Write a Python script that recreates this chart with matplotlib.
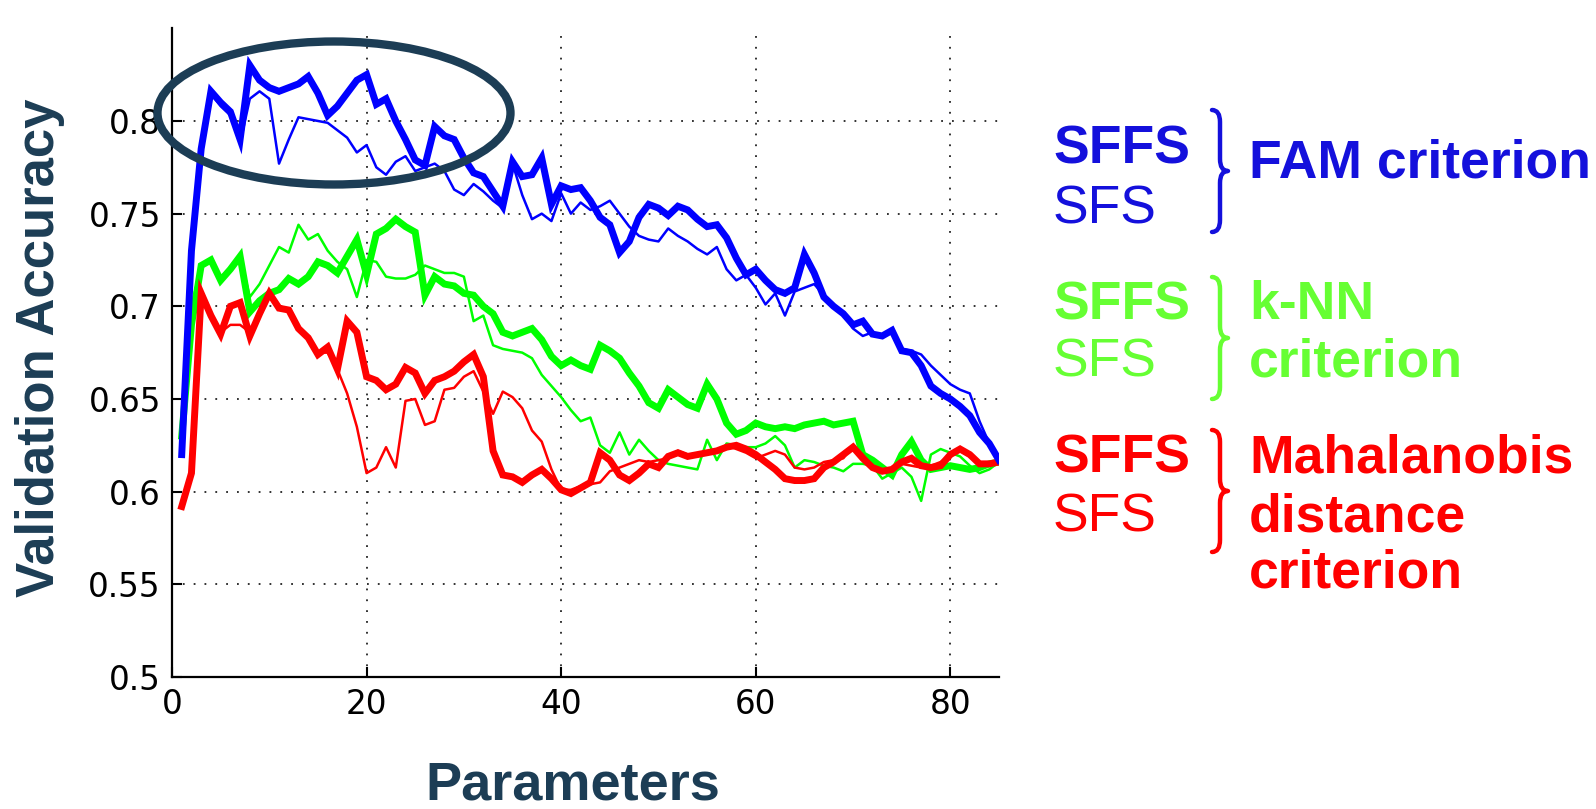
import numpy as np
import matplotlib
matplotlib.use("Agg")
import matplotlib.pyplot as plt
from matplotlib.patches import Ellipse, PathPatch
from matplotlib.path import Path

# ---------------- data ----------------
params = np.arange(1, 86)

blue_sffs = [0.62, 0.73, 0.785, 0.816, 0.81, 0.805, 0.79, 0.830, 0.822, 0.818,
             0.816, 0.818, 0.820, 0.824, 0.815, 0.803, 0.808, 0.815, 0.822, 0.825,
             0.809, 0.812, 0.800, 0.790, 0.779, 0.776, 0.797, 0.792, 0.790,
             0.78, 0.772, 0.77, 0.762, 0.754, 0.778, 0.77, 0.771, 0.78, 0.755,
             0.765, 0.763, 0.764, 0.757, 0.748, 0.744, 0.729, 0.735, 0.748, 0.755,
             0.753, 0.749, 0.754, 0.752, 0.747, 0.743, 0.744, 0.737,
             0.726, 0.717, 0.72, 0.714, 0.709, 0.707, 0.71, 0.728, 0.718, 0.705,
             0.70, 0.696, 0.69, 0.692, 0.685, 0.684, 0.687, 0.676, 0.675, 0.668,
             0.657, 0.653, 0.65, 0.646, 0.641, 0.632, 0.626, 0.617]

blue_sfs = [0.62, 0.73, 0.785, 0.815, 0.808, 0.803, 0.788, 0.812, 0.816, 0.812,
            0.777, 0.79, 0.802, 0.801, 0.80, 0.799, 0.795, 0.791, 0.783, 0.787,
            0.775, 0.771, 0.778, 0.781, 0.773, 0.775, 0.777, 0.773, 0.763,
            0.76, 0.766, 0.762, 0.757, 0.753, 0.777, 0.76, 0.747, 0.75, 0.746,
            0.761, 0.75, 0.756, 0.752, 0.754, 0.757, 0.75, 0.743, 0.738, 0.736,
            0.735, 0.742, 0.738, 0.735, 0.731, 0.728, 0.732, 0.72,
            0.714, 0.717, 0.71, 0.701, 0.707, 0.695, 0.708, 0.71, 0.712, 0.706,
            0.70, 0.696, 0.688, 0.684, 0.686, 0.683, 0.688, 0.677, 0.676, 0.674,
            0.668, 0.663, 0.658, 0.655, 0.653, 0.638, 0.626, 0.617]

green_sffs = [0.63, 0.69, 0.722, 0.725, 0.714, 0.72, 0.727, 0.697, 0.703, 0.707,
              0.709, 0.715, 0.712, 0.716, 0.724, 0.722, 0.718, 0.727, 0.736, 0.717,
              0.739, 0.742, 0.747, 0.743, 0.74, 0.706, 0.716, 0.712, 0.711,
              0.707, 0.706, 0.70, 0.696, 0.686, 0.684, 0.686, 0.688, 0.682, 0.673,
              0.668, 0.671, 0.668, 0.666, 0.679, 0.676, 0.672, 0.664, 0.657, 0.648,
              0.645, 0.655, 0.651, 0.647, 0.645, 0.658, 0.65, 0.637,
              0.631, 0.633, 0.637, 0.635, 0.634, 0.635, 0.634, 0.636, 0.637, 0.638,
              0.636, 0.637, 0.638, 0.62, 0.617, 0.613, 0.609, 0.62, 0.627, 0.617,
              0.612, 0.613, 0.614, 0.613, 0.612, 0.613, 0.615, 0.616]

green_sfs = [0.63, 0.70, 0.722, 0.725, 0.716, 0.72, 0.727, 0.705, 0.712, 0.722,
             0.732, 0.729, 0.744, 0.736, 0.739, 0.73, 0.724, 0.72, 0.705, 0.725,
             0.724, 0.716, 0.715, 0.715, 0.717, 0.722, 0.72, 0.718, 0.718,
             0.716, 0.692, 0.695, 0.679, 0.677, 0.676, 0.675, 0.672, 0.663, 0.657,
             0.651, 0.644, 0.638, 0.64, 0.625, 0.621, 0.632, 0.62, 0.628, 0.622,
             0.617, 0.615, 0.614, 0.613, 0.612, 0.628, 0.617, 0.626,
             0.625, 0.624, 0.624, 0.626, 0.63, 0.625, 0.613, 0.617, 0.616, 0.614,
             0.613, 0.611, 0.615, 0.615, 0.614, 0.607, 0.61, 0.613, 0.608, 0.595,
             0.62, 0.623, 0.621, 0.619, 0.614, 0.61, 0.612, 0.616]

red_sffs = [0.592, 0.61, 0.707, 0.695, 0.685, 0.70, 0.702, 0.684, 0.696, 0.707,
            0.699, 0.698, 0.688, 0.683, 0.674, 0.678, 0.666, 0.692, 0.686, 0.662,
            0.66, 0.655, 0.658, 0.667, 0.664, 0.653, 0.66, 0.662, 0.665,
            0.670, 0.674, 0.662, 0.622, 0.609, 0.608, 0.605, 0.609, 0.612, 0.607,
            0.601, 0.599, 0.602, 0.605, 0.621, 0.617, 0.609, 0.606, 0.61, 0.615,
            0.613, 0.619, 0.621, 0.619, 0.62, 0.621, 0.622, 0.624,
            0.625, 0.623, 0.62, 0.616, 0.612, 0.607, 0.606, 0.606, 0.607, 0.613,
            0.616, 0.62, 0.624, 0.618, 0.613, 0.611, 0.612, 0.616, 0.618, 0.614,
            0.613, 0.614, 0.62, 0.623, 0.62, 0.615, 0.615, 0.616]

red_sfs = [0.592, 0.61, 0.705, 0.695, 0.686, 0.69, 0.69, 0.686, 0.696, 0.706,
           0.699, 0.697, 0.688, 0.683, 0.675, 0.675, 0.666, 0.653, 0.635, 0.610,
           0.613, 0.624, 0.613, 0.649, 0.65, 0.636, 0.638, 0.655, 0.656,
           0.662, 0.665, 0.654, 0.642, 0.654, 0.651, 0.645, 0.633, 0.627, 0.612,
           0.601, 0.601, 0.603, 0.604, 0.605, 0.611, 0.613, 0.615, 0.617, 0.616,
           0.617, 0.618, 0.622, 0.62, 0.619, 0.621, 0.622, 0.625,
           0.623, 0.621, 0.618, 0.62, 0.622, 0.62, 0.613, 0.612, 0.613, 0.616,
           0.617, 0.618, 0.625, 0.62, 0.614, 0.612, 0.612, 0.615, 0.614, 0.613,
           0.614, 0.616, 0.62, 0.622, 0.619, 0.616, 0.614, 0.616]

y_ticks = [0.5, 0.55, 0.6, 0.65, 0.7, 0.75, 0.8]
y_tick_labels = ["0.5", "0.55", "0.6", "0.65", "0.7", "0.75", "0.8"]
x_ticks = [0, 20, 40, 60, 80]

# ---------------- figure ----------------
W, H = 1596, 809
fig = plt.figure(figsize=(W / 100, H / 100), dpi=100)
fig.patch.set_facecolor("white")


def fx(x):
    return x / W


def fy(y):
    return 1 - y / H


ax = fig.add_axes([fx(172), fy(677), 827 / W, (677 - 28.3) / H])
ax.set_xlim(0, 85)
ax.set_ylim(0.5, 0.85)

ax.plot(params, green_sffs, color=(0, 1, 0), lw=5.0, solid_joinstyle="miter", zorder=3)
ax.plot(params, green_sfs, color=(0, 1, 0), lw=1.8, zorder=3)
ax.plot(params, red_sffs, color=(1, 0, 0), lw=5.0, solid_joinstyle="miter", zorder=4)
ax.plot(params, red_sfs, color=(1, 0, 0), lw=1.8, zorder=4)
ax.plot(params, blue_sffs, color=(0, 0, 1), lw=5.0, solid_joinstyle="miter", zorder=5)
ax.plot(params, blue_sfs, color=(0, 0, 1), lw=1.8, zorder=5)

ax.set_xticks(x_ticks)
ax.set_yticks(y_ticks)
ax.set_yticklabels(y_tick_labels)
ax.grid(True, color="#222222", linestyle=(0, (1, 5)), linewidth=1.3)
ax.set_axisbelow(True)
for s in ["top", "right"]:
    ax.spines[s].set_visible(False)
for s in ["left", "bottom"]:
    ax.spines[s].set_linewidth(1.6)
    ax.spines[s].set_color("black")
ax.tick_params(direction="in", length=7, width=1.5, labelsize=23.5, pad=8)
for lab in ax.get_xticklabels() + ax.get_yticklabels():
    lab.set_fontfamily("DejaVu Sans")

dark = "#1C3D55"
fig.text(fx(40), fy(348), "Validation Accuracy", rotation=90, ha="center", va="center",
         fontsize=38, fontweight="bold", color=dark, family="Liberation Sans")
fig.text(fx(573), fy(785), "Parameters", ha="center", va="center",
         fontsize=39, fontweight="bold", color=dark, family="Liberation Sans")

# highlight ellipse
ell = Ellipse((fx(334), fy(113)), 353 / W, 143 / H, transform=fig.transFigure,
              fill=False, edgecolor=dark, lw=6, zorder=10)
fig.add_artist(ell)

# legend-like annotations
blue_t = "#1410DC"
green_t = "#66FF33"
red_t = "#FF0000"


def brace(x0, top, bot, color):
    mid = (top + bot) / 2
    d = 8
    verts = [(x0 - d, top), (x0, top), (x0, top + 12),
             (x0, mid - 12), (x0, mid), (x0 + d, mid),
             (x0, mid), (x0, mid + 12),
             (x0, bot - 12), (x0, bot), (x0 - d, bot)]
    codes = [Path.MOVETO, Path.CURVE3, Path.CURVE3,
             Path.LINETO, Path.CURVE3, Path.CURVE3,
             Path.CURVE3, Path.CURVE3,
             Path.LINETO, Path.CURVE3, Path.CURVE3]
    verts = [(fx(a), fy(b)) for a, b in verts]
    p = PathPatch(Path(verts, codes), transform=fig.transFigure, fill=False,
                  edgecolor=color, lw=3.2, capstyle="round", joinstyle="round")
    fig.add_artist(p)


fs = 38.5
xl = fx(1053)
xr = fx(1249)
groups = [
    (blue_t, 149, 209, 110, 232, [("FAM criterion", 164)]),
    (green_t, 305, 362, 277, 399, [("k-NN", 305), ("criterion", 362)]),
    (red_t, 459, 518, 430, 552, [("Mahalanobis", 459), ("distance", 518), ("criterion", 574)]),
]
for col, y1, y2, bt, bb, labels in groups:
    fig.text(xl, fy(y1), "SFFS", color=col, fontsize=fs, fontweight="bold",
             va="center", ha="left", family="Liberation Sans")
    fig.text(xl, fy(y2), "SFS", color=col, fontsize=fs, va="center", ha="left",
             family="Liberation Sans")
    brace(1220, bt, bb, col)
    for txt, yy in labels:
        fig.text(xr, fy(yy), txt, color=col, fontsize=fs, fontweight="bold",
                 va="center", ha="left", family="Liberation Sans")

fig.savefig("out.png", dpi=100, facecolor="white")
